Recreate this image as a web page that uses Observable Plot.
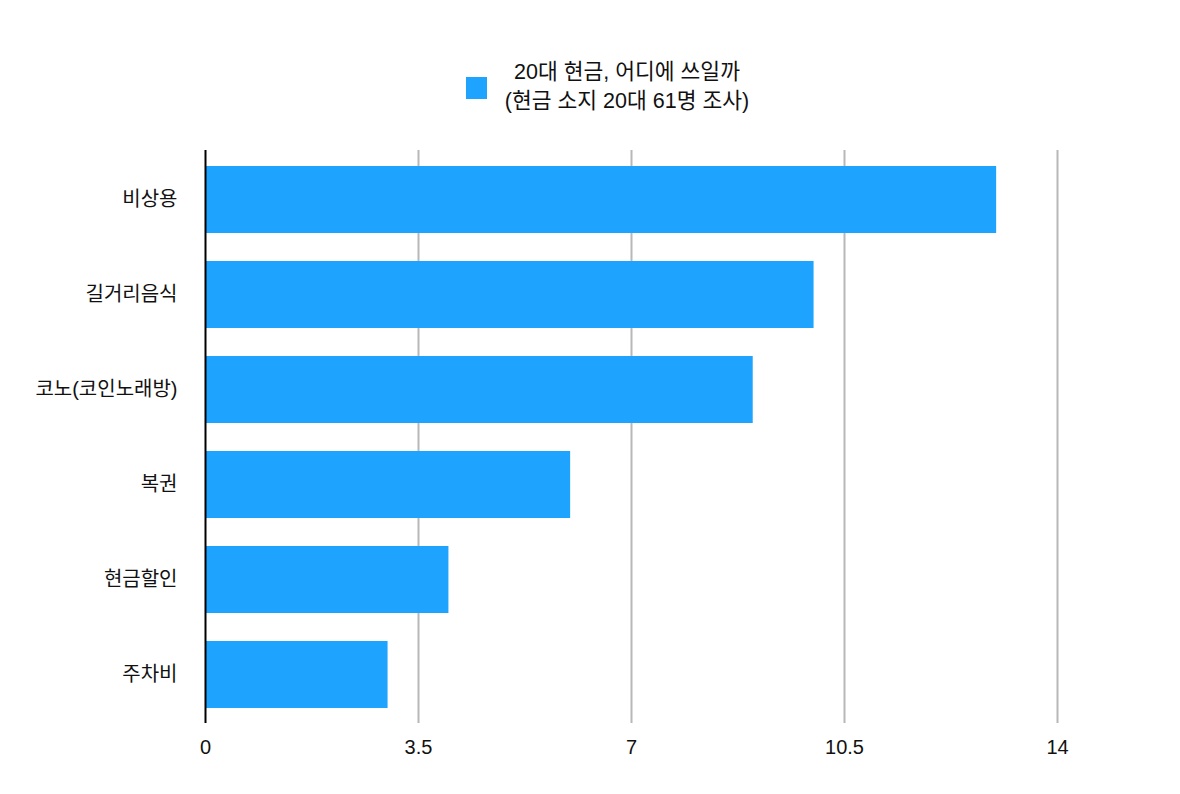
<!DOCTYPE html>
<html><head><meta charset="utf-8">
<script src="https://cdn.jsdelivr.net/npm/d3@7"></script>
<script src="https://cdn.jsdelivr.net/npm/@observablehq/plot@0.6"></script>
<style>
body{margin:0;background:#fff;font-family:"Liberation Sans","Noto Sans CJK KR",sans-serif;}
#wrap{position:relative;width:1180px;height:794px;}
#legend{position:absolute;left:0;top:0;width:1180px;height:140px;}
#sw{position:absolute;left:466px;top:77px;width:21px;height:22px;background:#1ea4ff;}
#lt{position:absolute;left:492px;top:58px;width:270px;text-align:center;font-size:21.5px;line-height:29px;color:#111;}
#chart{position:absolute;left:0;top:140px;}
</style></head><body>
<div id="wrap">
<div id="legend"><div id="sw"></div><div id="lt">20대 현금, 어디에 쓰일까<br>(현금 소지 20대 61명 조사)</div></div>
<div id="chart"></div>
</div>
<script>
const categories = ["비상용","길거리음식","코노(코인노래방)","복권","현금할인","주차비"];
const values = [13, 10, 9, 6, 4, 3];
const xTicks = [0, 3.5, 7, 10.5, 14];
const data = categories.map((c,i)=>({category:c, value:values[i]}));
const plot = Plot.plot({
  width:1180, height:654,
  marginTop:10, marginBottom:71, marginLeft:205, marginRight:123,
  style:{fontFamily:'"Liberation Sans","Noto Sans CJK KR",sans-serif', fontSize:"20px", color:"#111", background:"#fff"},
  x:{domain:[0,14], ticks:xTicks, label:null},
  y:{domain:categories, paddingInner:0.3, paddingOuter:0.14, label:null},
  marks:[
    Plot.gridX(xTicks.slice(1), {stroke:"#b8b8b8", strokeOpacity:1, strokeWidth:2}),
    Plot.barX(data, {y:"category", x:"value", fill:"#1ea4ff"}),
    Plot.ruleX([0], {stroke:"#000", strokeWidth:2}),
    Plot.axisX(xTicks, {tickSize:0, tickPadding:16, fontSize:20, tickFormat:d=>String(d)}),
    Plot.axisY({tickSize:0, tickPadding:28, fontSize:20})
  ]
});
document.getElementById("chart").appendChild(plot);
</script>
</body></html>
